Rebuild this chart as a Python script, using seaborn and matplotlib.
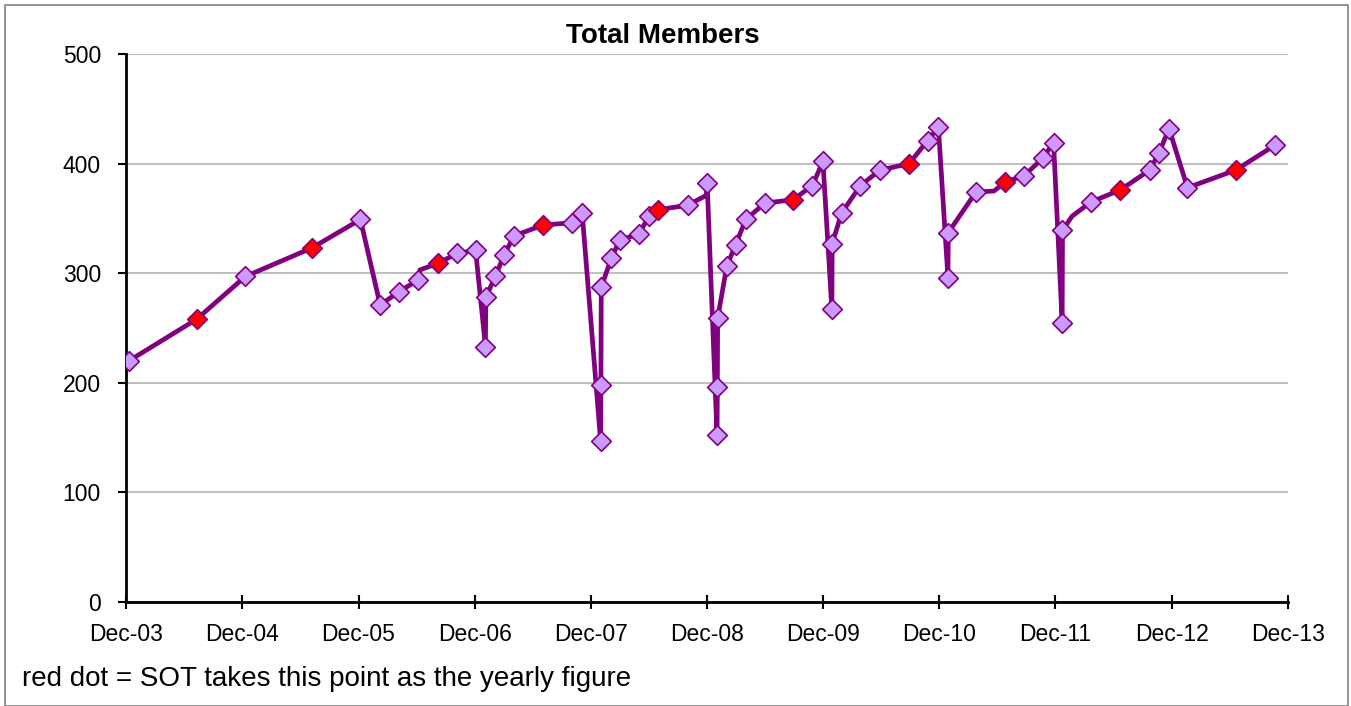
import matplotlib
matplotlib.use('Agg')
import numpy as np
import pandas as pd
import matplotlib.pyplot as plt
import matplotlib.dates as mdates
import matplotlib.patches as patches
import seaborn as sns

# membership counts, in drawing order
dates = [
    '2003-12-10', '2004-07-10', '2004-12-10', '2005-07-07', '2005-12-07',
    '2006-02-07', '2006-04-07', '2006-06-07', '2006-06-12', '2006-08-07',
    '2006-10-07', '2006-12-04', '2007-01-04', '2007-01-05', '2007-02-04',
    '2007-03-04', '2007-04-04', '2007-07-04', '2007-10-04', '2007-11-04',
    '2008-01-01', '2008-01-02', '2008-01-03', '2008-02-04', '2008-03-01',
    '2008-05-01', '2008-06-01', '2008-07-01', '2008-10-01', '2008-11-28',
    '2008-12-01', '2009-01-01', '2009-01-02', '2009-01-03', '2009-02-01',
    '2009-03-01', '2009-04-01', '2009-06-01', '2009-08-28', '2009-10-28',
    '2009-11-30', '2009-12-28', '2009-12-29', '2010-01-28', '2010-03-28',
    '2010-05-28', '2010-08-28', '2010-10-25', '2010-11-28', '2010-12-28',
    '2010-12-29', '2011-03-26', '2011-05-22', '2011-06-25', '2011-08-25',
    '2011-10-22', '2011-11-25', '2011-12-22', '2011-12-23', '2012-01-22',
    '2012-03-22', '2012-06-22', '2012-09-22', '2012-10-22', '2012-11-22',
    '2013-01-19', '2013-06-19', '2013-10-22',
]
members = [
    220, 258, 297, 323, 349,
    271, 283, 294, 303, 309,
    318, 321, 233, 278, 297,
    317, 334, 344, 346, 355,
    147, 198, 287, 314, 330,
    336, 352, 358, 362, 371,
    382, 152, 196, 259, 307,
    326, 349, 364, 367, 380,
    402, 267, 327, 355, 380,
    394, 400, 421, 433, 296,
    337, 374, 375, 383, 389,
    405, 419, 255, 339, 352,
    365, 376, 394, 410, 432,
    378, 394, 417,
]
# o = normal marker, r = red (yearly figure), n = no marker
kind = [
    'o', 'r', 'o', 'r', 'o',
    'o', 'o', 'o', 'n', 'r',
    'o', 'o', 'o', 'o', 'o',
    'o', 'o', 'r', 'o', 'o',
    'o', 'o', 'o', 'o', 'o',
    'o', 'o', 'r', 'o', 'n',
    'o', 'o', 'o', 'o', 'o',
    'o', 'o', 'o', 'r', 'o',
    'o', 'o', 'o', 'o', 'o',
    'o', 'r', 'o', 'o', 'o',
    'o', 'o', 'n', 'r', 'o',
    'o', 'o', 'o', 'o', 'n',
    'o', 'r', 'o', 'o', 'o',
    'o', 'r', 'o',
]

df = pd.DataFrame({'date': pd.to_datetime(dates), 'members': members, 'kind': kind})

sns.set_style('white')
plt.rcParams['font.family'] = ['Liberation Sans', 'DejaVu Sans']
plt.rcParams['text.color'] = 'black'
plt.rcParams['xtick.color'] = 'black'
plt.rcParams['ytick.color'] = 'black'

fig = plt.figure(figsize=(13.51, 7.06), dpi=100)
ax = fig.add_axes([126 / 1351, 1 - 602 / 706, 1162 / 1351, 548 / 706])

purple = '#800080'

sns.lineplot(data=df, x='date', y='members', sort=False, estimator=None,
             color=purple, lw=3.4, ax=ax, zorder=2)
sns.scatterplot(data=df[df['kind'] == 'o'], x='date', y='members', marker='D',
                s=100, color='#CC99FF', edgecolor=purple, linewidth=1.2, ax=ax, zorder=3)
sns.scatterplot(data=df[df['kind'] == 'r'], x='date', y='members', marker='D',
                s=100, color='#FF0000', edgecolor=purple, linewidth=1.2, ax=ax, zorder=3)

ax.set_xlim(pd.Timestamp('2003-12-01'), pd.Timestamp('2013-12-01'))
ax.set_ylim(0, 500)
ax.set_yticks(range(0, 501, 100))
ax.xaxis.set_major_locator(mdates.MonthLocator(bymonth=12, bymonthday=1))
ax.xaxis.set_minor_locator(mdates.MonthLocator(bymonth=6, bymonthday=1))
ax.xaxis.set_major_formatter(mdates.DateFormatter('%b-%y'))

ax.yaxis.grid(True, color='#C0C0C0', lw=1.5)
ax.set_axisbelow(True)
for s in ['top', 'right']:
    ax.spines[s].set_visible(False)
for s in ['left', 'bottom']:
    ax.spines[s].set_color('black')
    ax.spines[s].set_linewidth(2)

ax.tick_params(axis='y', which='major', direction='out', length=6, width=1.5,
               labelsize=16.5, pad=12)
ax.tick_params(axis='x', which='major', direction='inout', length=10, width=1.5,
               labelsize=16.5, pad=10)
ax.tick_params(axis='x', which='minor', direction='in', length=5, width=1.5)
ax.tick_params(left=True, bottom=True)
ax.set_xlabel('')
ax.set_ylabel('')

fig.text(663 / 1351, 1 - 36 / 706, 'Total Members', ha='center', va='center',
         fontsize=20, fontweight='bold')
fig.text(22 / 1351, 1 - 679 / 706, 'red dot = SOT takes this point as the yearly figure',
         ha='left', va='center', fontsize=20)

fig.patches.append(patches.Rectangle((5 / 1351, 0), 1343 / 1351, 1 - 5 / 706,
                                     transform=fig.transFigure, fill=False,
                                     edgecolor='#808080', lw=1.2))

fig.savefig('out.png', dpi=100)
